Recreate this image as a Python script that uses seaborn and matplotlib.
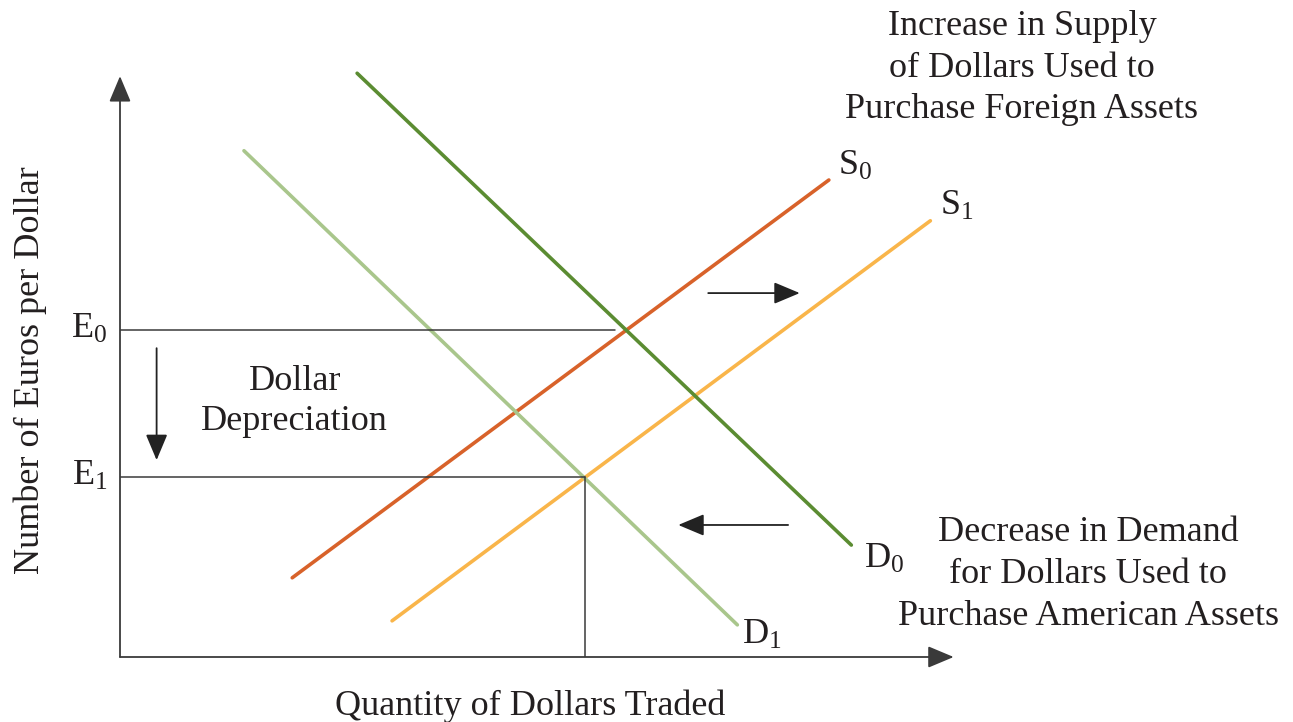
import pandas as pd
import matplotlib
matplotlib.use("Agg")
import matplotlib.pyplot as plt
import seaborn as sns

# --- data (chart units: 0-100 on each axis) ---
curve_names = ["S0", "S1", "D0", "D1"]
curve_x = [[20.7, 85.2], [32.7, 97.4], [28.5, 87.9], [14.9, 74.2]]
curve_y = [[13.8, 83.1], [6.3, 76.0], [101.7, 19.5], [88.2, 5.6]]
curve_labels = ["S$_0$", "S$_1$", "D$_0$", "D$_1$"]
curve_colors = ["#d8622a", "#f9b54a", "#5b8c32", "#a9c68c"]

e_levels = [57.0, 31.4]
e_labels = ["E$_0$", "E$_1$"]
e_line_ends = [59.5, 55.9]
q1 = 55.9

shift_arrows = [  # (x_from, y_from, x_to, y_to)
    (70.7, 63.4, 81.7, 63.4),
    (80.3, 23.0, 67.1, 23.0),
    (4.4, 53.8, 4.4, 34.3),
]

supply_note = ["Increase in Supply", "of Dollars Used to", "Purchase Foreign Assets"]
demand_note = ["Decrease in Demand", "for Dollars Used to", "Purchase American Assets"]
depr_note = ["Dollar", "Depreciation"]

df = pd.DataFrame({
    "curve": [n for n in curve_names for _ in range(2)],
    "x": [v for xs in curve_x for v in xs],
    "y": [v for ys in curve_y for v in ys],
})

sns.set_theme(style="white")
plt.rcParams["font.family"] = ["Liberation Serif", "DejaVu Serif"]
plt.rcParams["mathtext.fontset"] = "custom"
plt.rcParams["mathtext.rm"] = "Liberation Serif"
plt.rcParams["mathtext.it"] = "Liberation Serif:italic"

fig = plt.figure(figsize=(12.93, 7.22), dpi=100)
W, H = 1293, 722
ax = fig.add_axes([120 / W, (H - 657) / H, 832 / W, 574 / H])
ax.set_xlim(0, 100)
ax.set_ylim(0, 100)
ax.axis("off")

sns.lineplot(data=df, x="x", y="y", hue="curve", units="curve", estimator=None,
             sort=False, palette=dict(zip(curve_names, curve_colors)),
             linewidth=2.6, legend=False, ax=ax, clip_on=False)

axis_col = "#3a3a3a"
txt_col = "#231f20"
head = "-|>,head_length=1.0,head_width=0.42"

# axes with arrow heads
for end in [(0, 101.2), (100.2, 0)]:
    ax.annotate("", xy=end, xytext=(0, 0), annotation_clip=False,
                arrowprops=dict(arrowstyle=head, mutation_scale=16,
                                color=axis_col, lw=1.3, shrinkA=0, shrinkB=0))

# equilibrium guide lines
for lvl, end in zip(e_levels, e_line_ends):
    ax.plot([0, end], [lvl, lvl], color=axis_col, lw=1.1)
ax.plot([q1, q1], [0, e_levels[1]], color=axis_col, lw=1.1)

for x0, y0, x1, y1 in shift_arrows:
    ax.annotate("", xy=(x1, y1), xytext=(x0, y0), annotation_clip=False,
                arrowprops=dict(arrowstyle=head, mutation_scale=16,
                                color="#222222", lw=1.3, shrinkA=0, shrinkB=0))

fs = 26
for lbl, lvl in zip(e_labels, e_levels):
    ax.text(-1.5, lvl, lbl, ha="right", va="center", fontsize=fs, color=txt_col)

label_pos = [(86.3, 85.5), (98.6, 78.5), (89.4, 17.0), (74.8, 3.8)]
for lbl, (x, y) in zip(curve_labels, label_pos):
    ax.text(x, y, lbl, ha="left", va="center", fontsize=fs, color=txt_col)

# multi-line notes, one text per line (baselines)
for lines, xc, baselines in [(depr_note, 21.0, [46.5, 39.5]),
                             (supply_note, 108.4, [108.4, 101.0, 93.9]),
                             (demand_note, 116.35, [20.2, 12.9, 5.6])]:
    for line, yb in zip(lines, baselines):
        ax.text(xc, yb, line, ha="center", va="baseline", fontsize=fs, color=txt_col)

ax.text(49.3, -8.6, "Quantity of Dollars Traded", ha="center", va="center",
        fontsize=fs, color=txt_col)
ax.text(-10.8, 49.9, "Number of Euros per Dollar", ha="center", va="center",
        rotation=90, fontsize=fs, color=txt_col)

fig.savefig("out.png", dpi=100)
